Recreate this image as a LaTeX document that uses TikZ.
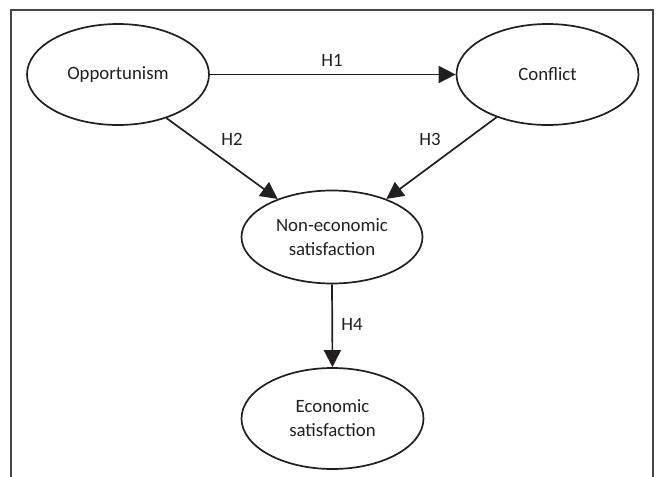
\documentclass[tikz,border=0pt]{standalone}
\usepackage{fontspec}
\setmainfont{Carlito}
\usetikzlibrary{shapes.geometric,arrows.meta}
\definecolor{txt}{RGB}{35,31,32}
\definecolor{frame}{RGB}{70,70,70}
\begin{document}
\begin{tikzpicture}[x=1pt,y=-1pt,
  oval/.style={ellipse,draw=txt,line width=1.7pt,inner sep=0pt,
    minimum width=182pt,minimum height=101pt,align=center,
    font=\fontsize{18.8}{24}\selectfont,text=txt},
  link/.style={draw=txt,line width=1.7pt,-{Triangle[length=17pt,width=17pt]}},
  lab/.style={font=\fontsize{18.8}{24}\selectfont,text=txt,inner sep=0pt}]
\useasboundingbox (0,0) rectangle (657,477);
\draw[frame,line width=1.4pt] (11,477) -- (11,10) -- (653,10) -- (653,477);
\node[oval] (opp) at (118,74.5) {Opportunism};
\node[oval] (con) at (547.5,74.5) {Conflict};
\node[oval,minimum width=181pt,minimum height=93pt] (non) at (332,237) {Non-economic\\satisfaction};
\node[oval] (eco) at (332.5,418.5) {Economic\\satisfaction};
\draw[link] (opp.east) -- (con.west);
\draw[link] (opp.-42) -- (non.145);
\draw[link] (con.220.6) -- (non.35);
\draw[link] (non.south) -- (eco.north);
\node[lab] (h1) at (332,60) {H1};
\node[lab] (h2) at (232,139) {H2};
\node[lab] (h3) at (430,139) {H3};
\node[lab] (h4) at (352,324) {H4};
\end{tikzpicture}
\end{document}
